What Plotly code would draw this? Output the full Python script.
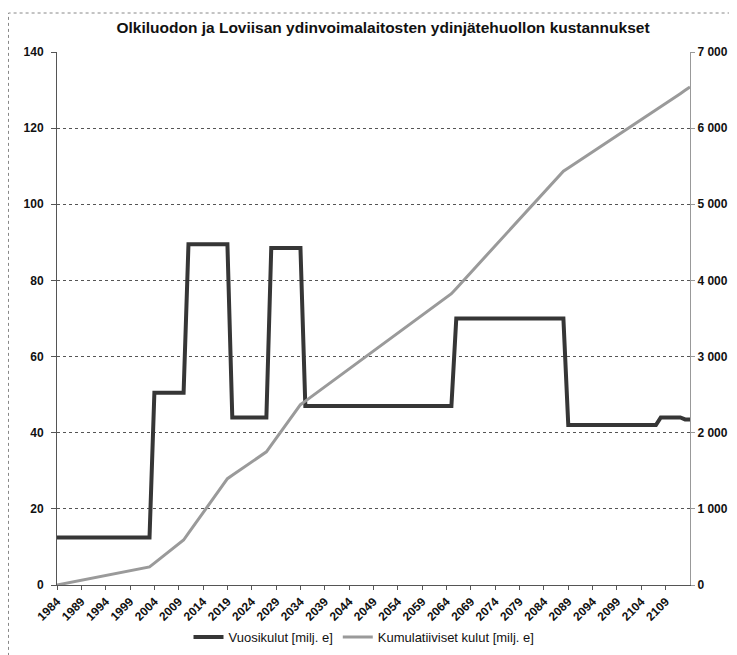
import plotly.graph_objects as go

years = list(range(1984, 2115))

annual = [
    12.5, 12.5, 12.5, 12.5, 12.5, 12.5, 12.5, 12.5, 12.5, 12.5,   # 1984-1993
    12.5, 12.5, 12.5, 12.5, 12.5, 12.5, 12.5, 12.5, 12.5, 12.5,   # 1994-2003
    50.5, 50.5, 50.5, 50.5, 50.5, 50.5, 50.5,                     # 2004-2010
    89.5, 89.5, 89.5, 89.5, 89.5, 89.5, 89.5, 89.5, 89.5,         # 2011-2019
    44, 44, 44, 44, 44, 44, 44, 44,                               # 2020-2027
    88.5, 88.5, 88.5, 88.5, 88.5, 88.5, 88.5,                     # 2028-2034
    47, 47, 47, 47, 47, 47, 47, 47, 47, 47,                       # 2035-2044
    47, 47, 47, 47, 47, 47, 47, 47, 47, 47,                       # 2045-2054
    47, 47, 47, 47, 47, 47, 47, 47, 47, 47, 47,                   # 2055-2065
    70, 70, 70, 70, 70, 70, 70, 70, 70, 70,                       # 2066-2075
    70, 70, 70, 70, 70, 70, 70, 70, 70, 70,                       # 2076-2085
    70, 70, 70,                                                   # 2086-2088
    42, 42, 42, 42, 42, 42, 42, 42, 42, 42,                       # 2089-2098
    42, 42, 42, 42, 42, 42, 42, 42, 42,                           # 2099-2107
    44, 44, 44, 44, 44, 43.5, 43.5,                               # 2108-2114
]

cumulative = [
    0, 12.5, 25, 37.5, 50, 62.5, 75, 87.5, 100, 112.5,
    125, 137.5, 150, 162.5, 175, 187.5, 200, 212.5, 225, 237.5,
    288, 338.5, 389, 439.5, 490, 540.5, 591,
    680.5, 770, 859.5, 949, 1038.5, 1128, 1217.5, 1307, 1396.5,
    1440.5, 1484.5, 1528.5, 1572.5, 1616.5, 1660.5, 1704.5, 1748.5,
    1837, 1925.5, 2014, 2102.5, 2191, 2279.5, 2368,
    2415, 2462, 2509, 2556, 2603, 2650, 2697, 2744, 2791, 2838,
    2885, 2932, 2979, 3026, 3073, 3120, 3167, 3214, 3261, 3308,
    3355, 3402, 3449, 3496, 3543, 3590, 3637, 3684, 3731, 3778, 3825,
    3895, 3965, 4035, 4105, 4175, 4245, 4315, 4385, 4455, 4525,
    4595, 4665, 4735, 4805, 4875, 4945, 5015, 5085, 5155, 5225,
    5295, 5365, 5435,
    5477, 5519, 5561, 5603, 5645, 5687, 5729, 5771, 5813, 5855,
    5897, 5939, 5981, 6023, 6065, 6107, 6149, 6191, 6233,
    6277, 6321, 6365, 6409, 6453, 6497, 6540,
]

x_tick_years = list(range(1984, 2110, 5))
left_ticks = [0, 20, 40, 60, 80, 100, 120, 140]
right_ticks = [0, 1000, 2000, 3000, 4000, 5000, 6000, 7000]
right_tick_text = ["0", "1 000", "2 000", "3 000", "4 000", "5 000", "6 000", "7 000"]

title_text = "Olkiluodon ja Loviisan ydinvoimalaitosten ydinjätehuollon kustannukset"
name_annual = "Vuosikulut [milj. e]"
name_cum = "Kumulatiiviset kulut [milj. e]"

FONT = "Liberation Sans, Arial, sans-serif"

# The page body has an 8px default margin; the figure is sized to fit the window.
W, H = 729, 647

fig = go.Figure()
fig.add_trace(go.Scatter(
    x=years, y=annual, name=name_annual, mode="lines",
    line=dict(color="#363636", width=4), yaxis="y",
))
fig.add_trace(go.Scatter(
    x=years, y=cumulative, name=name_cum, mode="lines",
    line=dict(color="#9a9a9a", width=3), yaxis="y2",
))

fig.update_layout(
    width=W, height=H,
    margin=dict(l=49, r=47, t=44, b=70, autoexpand=False),
    paper_bgcolor="white", plot_bgcolor="white",
    font=dict(family=FONT, color="#111", size=11),
    title=dict(text="<b>" + title_text + "</b>", x=375 / W, xanchor="center",
               y=1 - 20 / H, yanchor="middle", font=dict(size=15.5, family=FONT, color="#111")),
    showlegend=True,
    legend=dict(orientation="h", x=(364 - 57) / 633, xanchor="center",
                y=-(637 - 585) / 533, yanchor="middle",
                font=dict(size=13, family=FONT, color="#111"),
                itemwidth=30, bgcolor="rgba(0,0,0,0)", tracegroupgap=0),
    xaxis=dict(
        range=[1984, 2114], tickmode="array", tickvals=x_tick_years,
        ticktext=["<b>%d</b>" % y for y in x_tick_years],
        tickangle=-45, ticks="outside", ticklen=4, tickcolor="#555",
        showgrid=False, showline=True, linecolor="#555", linewidth=1,
        tickfont=dict(size=12, family=FONT, color="#111"), zeroline=False,
        automargin=False,
    ),
    yaxis=dict(
        range=[0, 140], tickmode="array", tickvals=left_ticks,
        ticktext=["<b>%d</b>" % v for v in left_ticks],
        ticks="outside", ticklen=5, tickcolor="#555",
        showgrid=True, gridcolor="#555", griddash="dot", gridwidth=1,
        showline=True, linecolor="#555", linewidth=1, zeroline=False,
        tickfont=dict(size=12, family=FONT, color="#111"), automargin=False,
        ticklabelstandoff=5,
    ),
    yaxis2=dict(
        range=[0, 7000], overlaying="y", side="right", tickmode="array",
        tickvals=right_ticks, ticktext=["<b>%s</b>" % t for t in right_tick_text],
        ticks="outside", ticklen=4, tickcolor="#999",
        showgrid=False, showline=True, linecolor="#999", linewidth=1, zeroline=False,
        tickfont=dict(size=12, family=FONT, color="#111"), automargin=False,
    ),
    shapes=[
        dict(type="rect", xref="paper", yref="paper",
             x0=-48.5 / 633, x1=1.2, y0=-0.3, y1=(577 - 5) / 533,
             line=dict(color="#888", width=1, dash="dot"), fillcolor="rgba(0,0,0,0)",
             layer="below"),
    ],
)

fig.write_html("out.html")
